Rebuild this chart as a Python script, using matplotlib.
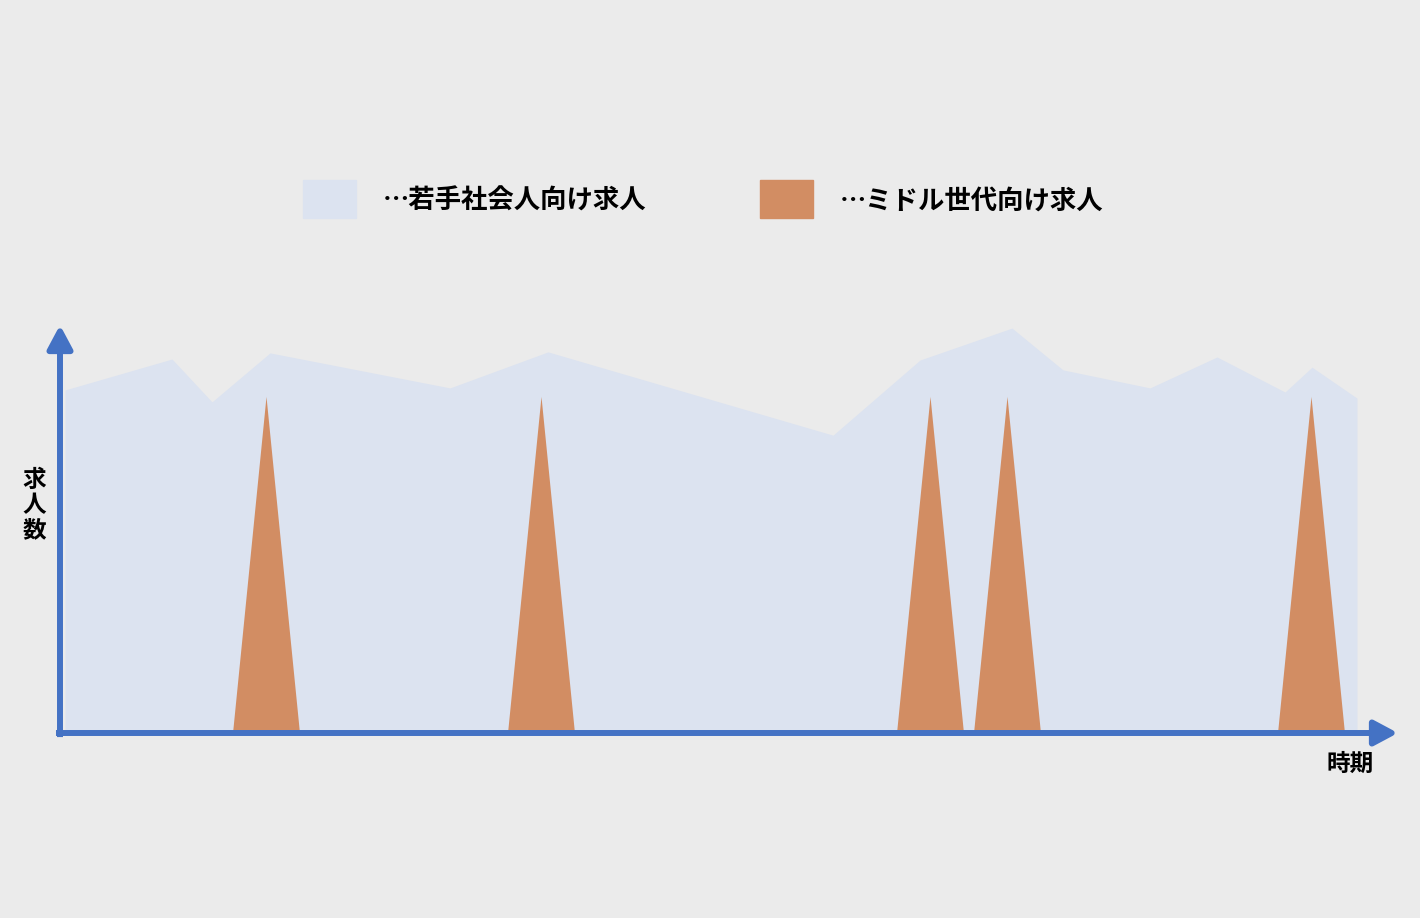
import matplotlib.pyplot as plt

plt.rcParams['font.family'] = ['Noto Sans CJK JP', 'DejaVu Sans']

# young-worker job openings (time, count)
young_t = [0.5, 11.2, 15.2, 21.0, 39.0, 48.8, 77.3, 86.0, 95.2, 100.3,
           109.0, 115.7, 122.5, 125.2, 129.7, 129.7]
young_n = [100.9, 110.0, 97.4, 111.8, 101.5, 112.1, 87.6, 109.7, 119.1, 106.8,
           101.5, 110.6, 100.3, 107.6, 98.5, 0]

# middle-generation openings: short spikes
spike_t = [20.6, 48.1, 87.0, 94.7, 125.1]
spike_n = 99
spike_half = 3.35

labels = ['…若手社会人向け求人', '…ミドル世代向け求人']
blue = '#DCE3F0'
orange = '#D28D63'
axis_blue = '#4472C4'

W, H = 1420, 918
fig = plt.figure(figsize=(W / 100, H / 100), dpi=100)
fig.patch.set_facecolor('#EBEBEB')

ax = fig.add_axes([60 / W, (H - 733) / H, (1398 - 60) / W, (733 - 325) / H])
ax.set_xlim(0, 133.8)
ax.set_ylim(0, 120)
ax.set_axis_off()

ax.fill_between(young_t, young_n, 0, color=blue, lw=0, zorder=1)
for t in spike_t:
    ax.fill_between([t - spike_half, t, t + spike_half], [0, spike_n, 0], 0,
                    color=orange, lw=0, zorder=2)

# arrows for the axes
arrow = dict(arrowstyle='-|>,head_length=0.75,head_width=0.4', mutation_scale=19,
             color=axis_blue, lw=4.3, shrinkA=0, shrinkB=0, capstyle='butt')
ax.annotate('', xy=(0, 1), xytext=(0, -0.01), xycoords='axes fraction',
            arrowprops=arrow, zorder=3)
ax.annotate('', xy=(1, 0), xytext=(-0.003, 0), xycoords='axes fraction',
            arrowprops=arrow, zorder=3)

fig.text(1350 / W, 1 - 764 / H, '時期', fontsize=17, fontweight='bold',
         ha='center', va='center')
fig.text(34 / W, 1 - 505 / H, '求\n人\n数', fontsize=17, fontweight='bold',
         ha='center', va='center', linespacing=1.05)

# legend drawn by hand
for i, (lab, col) in enumerate(zip(labels, [blue, orange])):
    x0 = [303, 760][i]
    fig.patches.append(plt.Rectangle((x0 / W, 1 - 218 / H), 53 / W, 38 / H,
                                     transform=fig.transFigure, color=col))
    fig.text((x0 + 80) / W, 1 - 201 / H, lab, fontsize=19, fontweight='bold',
             ha='left', va='center')

plt.savefig('out.png', facecolor=fig.get_facecolor())
